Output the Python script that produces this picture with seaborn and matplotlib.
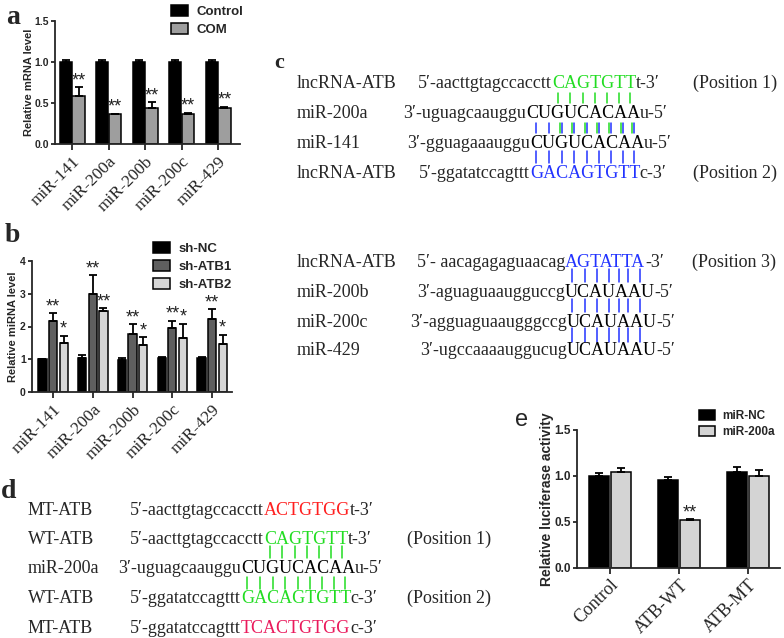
import matplotlib
matplotlib.use("Agg")
import numpy as np
import pandas as pd
import seaborn as sns
import matplotlib.pyplot as plt
from matplotlib.lines import Line2D
from matplotlib.font_manager import FontProperties, findfont, get_font
from matplotlib import ft2font

# ---- data ----
mir_labels = ['miR-141', 'miR-200a', 'miR-200b', 'miR-200c', 'miR-429']

a_control = [1.00, 1.00, 1.00, 1.00, 1.00]
a_control_err = [0.02, 0.02, 0.02, 0.02, 0.02]
a_com = [0.59, 0.36, 0.44, 0.36, 0.44]
a_com_err = [0.10, 0.01, 0.07, 0.02, 0.01]
a_stars = [['', '', '', '', ''], ['**', '**', '**', '**', '**']]

b_nc = [1.00, 1.05, 0.99, 1.04, 1.03]
b_nc_err = [0.02, 0.07, 0.04, 0.04, 0.03]
b_atb1 = [2.16, 2.99, 1.76, 1.95, 2.23]
b_atb1_err = [0.24, 0.58, 0.31, 0.23, 0.29]
b_atb2 = [1.51, 2.47, 1.45, 1.66, 1.48]
b_atb2_err = [0.20, 0.09, 0.22, 0.42, 0.26]
b_stars = [['', '', '', '', ''], ['**', '**', '**', '**', '**'], ['*', '**', '*', '*', '*']]

e_groups = ['Control', 'ATB-WT', 'ATB-MT']
e_nc = [1.00, 0.96, 1.04]
e_nc_err = [0.03, 0.03, 0.06]
e_200a = [1.04, 0.52, 1.00]
e_200a_err = [0.05, 0.01, 0.06]
e_stars = [['', '', ''], ['', '**', '']]

W, H = 784, 638
sns.set_style("ticks")
plt.rcParams['font.family'] = ['Liberation Sans', 'DejaVu Sans']
plt.rcParams['axes.linewidth'] = 1.3
SERIF = ['Liberation Serif', 'DejaVu Serif']

fig = plt.figure(figsize=(W / 100, H / 100), dpi=100)


def rect(l, t, r, b):
    return [l / W, 1 - b / H, (r - l) / W, (b - t) / H]


def put(x, y, s, **kw):
    return fig.text(x / W, 1 - y / H, s, **kw)


def bar_panel(box, cats, series, names, errs, stars, colors, ylim, yticks, ylabel,
              width, gap, xlim, tick_size, ytick_size, ylab_size, ylab_pad):
    ax = fig.add_axes(rect(*box))
    rows = []
    for name, vals in zip(names, series):
        for c, v in zip(cats, vals):
            rows.append({'cat': c, 'grp': name, 'val': v})
    df = pd.DataFrame(rows)
    sns.barplot(data=df, x='cat', y='val', hue='grp', palette=colors, ax=ax,
                edgecolor='black', linewidth=1.1, width=width, gap=gap,
                errorbar=None, saturation=1)
    for cont, err, st in zip(ax.containers, errs, stars):
        xs = [p.get_x() + p.get_width() / 2 for p in cont.patches]
        ys = [p.get_height() for p in cont.patches]
        ax.errorbar(xs, ys, yerr=[np.zeros(len(err)), err], fmt='none',
                    ecolor='black', elinewidth=1.3, capsize=3, capthick=1.3)
        for x, y, e, s in zip(xs, ys, err, st):
            if s:
                ax.text(x, y + e - ylim[1] * 0.015, s, ha='center', va='bottom',
                        fontsize=13, color='#222222')
    ax.set_ylim(*ylim)
    ax.set_xlim(*xlim)
    ax.set_yticks(yticks)
    ax.set_yticklabels([f'{t:.1f}' if ylim[1] < 2 else f'{t:g}' for t in yticks],
                       fontsize=ytick_size, fontweight='bold')
    ax.set_xticks(range(len(cats)))
    ax.set_xticklabels(cats, rotation=45, ha='right', rotation_mode='anchor',
                       fontsize=tick_size, family=SERIF)
    ax.tick_params(axis='x', length=4, width=1.3, pad=3)
    ax.tick_params(axis='y', length=3, width=1.3, pad=1.5)
    ax.set_xlabel('')
    ax.set_ylabel(ylabel, fontsize=ylab_size, fontweight='bold', labelpad=ylab_pad)
    sns.despine(ax=ax)
    ax.get_legend().remove()
    return ax


# ---- panel a ----
ax_a = bar_panel((55, 21, 240, 144), mir_labels, [a_control, a_com], ['Control', 'COM'],
                 [a_control_err, a_com_err], a_stars, ['black', '#9e9e9e'],
                 (0, 1.5), [0, 0.5, 1.0, 1.5], 'Relative mRNA level',
                 0.7, 0.05, (-0.47, 4.6), 12.5, 7.5, 8, 0.5)
ax_a.legend(loc='upper left', bbox_to_anchor=(166 / W, 1.0), bbox_transform=fig.transFigure,
            frameon=False, prop={'weight': 'bold', 'size': 9.5}, handlelength=1.3,
            handleheight=0.9, handletextpad=0.6, labelspacing=0.35, borderaxespad=0)

# ---- panel b ----
ax_b = bar_panel((32, 261, 232, 392), mir_labels, [b_nc, b_atb1, b_atb2],
                 ['sh-NC', 'sh-ATB1', 'sh-ATB2'], [b_nc_err, b_atb1_err, b_atb2_err], b_stars,
                 ['black', '#5f5f5f', '#d6d6d6'], (0, 4), [0, 1, 2, 3, 4],
                 'Relative miRNA level', 0.8, 0.22, (-0.53, 4.5), 12.5, 7.5, 8, 1.5)
ax_b.legend(loc='upper left', bbox_to_anchor=(148 / W, 1 - 237 / H), bbox_transform=fig.transFigure,
            frameon=False, prop={'weight': 'bold', 'size': 9.5}, handlelength=1.3,
            handleheight=0.9, handletextpad=0.6, labelspacing=0.35, borderaxespad=0)

# ---- panel e ----
ax_e = bar_panel((577, 430, 780, 568), e_groups, [e_nc, e_200a], ['miR-NC', 'miR-200a'],
                 [e_nc_err, e_200a_err], e_stars, ['black', '#d4d4d4'],
                 (0, 1.5), [0, 0.5, 1.0, 1.5], 'Relative luciferase activity',
                 0.64, 0.1, (-0.48, 2.46), 13, 8.5, 10, 0.5)
ax_e.tick_params(axis='x', pad=2)
ax_e.legend(loc='upper left', bbox_to_anchor=(694 / W, 1 - 405 / H), bbox_transform=fig.transFigure,
            frameon=False, prop={'weight': 'bold', 'size': 8.5}, handlelength=1.4,
            handleheight=0.9, handletextpad=0.6, labelspacing=0.4, borderaxespad=0)

# ---- panel letters ----
put(13, 17, 'a', family=SERIF, fontsize=20, fontweight='bold', ha='center', va='center')
put(12, 235, 'b', family=SERIF, fontsize=20, fontweight='bold', ha='center', va='center')
put(279, 63, 'c', family=SERIF, fontsize=16, fontweight='bold', ha='center', va='center')
put(9, 492, 'd', family=SERIF, fontsize=20, fontweight='bold', ha='center', va='center')
put(522, 420, 'e', fontsize=17, ha='center', va='center')

# ---- sequence panels c and d ----
GREEN = '#22dd22'
BLUE = '#2233ff'
RED = '#ff1f1f'
PINK = '#ea1a5c'
FS = 13
ft = get_font(findfont(FontProperties(family=SERIF)))
ft.set_size(FS, 100)
try:
    KERN = ft2font.Kerning.DEFAULT
except AttributeError:
    KERN = ft2font.KERNING_DEFAULT


def adv(s, prev=None):
    # pen advance of a string in pixels, kerning included (same as matplotlib's layout)
    total = 0.0
    for ch in s:
        gi = ft.get_char_index(ord(ch))
        if prev is not None:
            total += ft.get_kerning(prev, gi, KERN) / 64
        total += ft.load_char(ord(ch)).linearHoriAdvance / 65536
        prev = gi
    return total


def seq_row(x, y, pre, core, post, core_color):
    base = y + 5
    put(x, base, pre, family=SERIF, fontsize=FS, va='baseline', ha='left')
    cur = x + adv(pre)
    put(cur, base, core, family=SERIF, fontsize=FS, va='baseline', ha='left', color=core_color)
    centers = []
    for i, ch in enumerate(core):
        left = cur + adv(core[:i])
        centers.append(left + adv(ch) / 2)
    put(cur + adv(core), base, post, family=SERIF, fontsize=FS, va='baseline', ha='left')
    return centers


def name(x, y, s):
    put(x, y + 5, s, family=SERIF, fontsize=FS, va='baseline', ha='left')


def ticks_between(centers, y0, y1, color, dx=0):
    for cx in centers:
        fig.add_artist(Line2D([(cx + dx) / W] * 2, [1 - y0 / H, 1 - y1 / H],
                              transform=fig.transFigure, color=color, lw=1.1))


# panel c, positions 1 and 2
name(297, 83, 'lncRNA-ATB')
c1 = seq_row(418, 83, '5\u2032-aacttgtagccacctt', 'CAGTGTT', 't-3\u2032', GREEN)
put(693, 88, '(Position 1)', family=SERIF, fontsize=FS, va='baseline')
name(297, 113, 'miR-200a')
seq_row(403, 113, '3\u2032-uguagcaauggu', 'CUGUCACAA', 'u-5\u2032', 'black')
name(297, 143, 'miR-141')
seq_row(407, 143, '3\u2032-gguagaaauggu', 'CUGUCACAA', 'u-5\u2032', 'black')
name(297, 173, 'lncRNA-ATB')
c4 = seq_row(419, 173, '5\u2032-ggatatccagttt', 'GACAGTGTT', 'c-3\u2032', BLUE)
put(693, 178, '(Position 2)', family=SERIF, fontsize=FS, va='baseline')
ticks_between(c1, 93, 103, GREEN)
ticks_between(c1, 123, 133, GREEN, dx=2)
ticks_between(c4, 123, 133, BLUE)
ticks_between(c4, 151, 163, BLUE)

# panel c, position 3
name(297, 262, 'lncRNA-ATB')
c5 = seq_row(417, 262, '5\u2032- aacagagaguaacag', 'AGTATTA', '-3\u2032', BLUE)
put(692, 267, '(Position 3)', family=SERIF, fontsize=FS, va='baseline')
name(297, 292, 'miR-200b')
seq_row(417, 292, '3\u2032-aguaguaaugguccg', 'UCAUAAU', '-5\u2032', 'black')
name(297, 322, 'miR-200c')
seq_row(410, 322, '3\u2032-agguaguaaugggccg', 'UCAUAAU', '-5\u2032', 'black')
name(297, 350, 'miR-429')
seq_row(420, 350, '3\u2032-ugccaaaauggucug', 'UCAUAAU', '-5\u2032', 'black')
ticks_between(c5, 269, 282, BLUE)
ticks_between(c5, 299, 312, BLUE)
ticks_between(c5, 328, 342, BLUE)

# panel d
name(28, 510, 'MT-ATB')
seq_row(130, 510, '5\u2032-aacttgtagccacctt', 'ACTGTGG', 't-3\u2032', RED)
name(28, 539, 'WT-ATB')
d2 = seq_row(130, 539, '5\u2032-aacttgtagccacctt', 'CAGTGTT', 't-3\u2032', GREEN)
put(407, 544, '(Position 1)', family=SERIF, fontsize=FS, va='baseline')
name(28, 568, 'miR-200a')
seq_row(118, 568, '3\u2032-uguagcaauggu', 'CUGUCACAA', 'u-5\u2032', 'black')
name(28, 598, 'WT-ATB')
d4 = seq_row(130, 598, '5\u2032-ggatatccagttt', 'GACAGTGTT', 'c-3\u2032', GREEN)
put(407, 603, '(Position 2)', family=SERIF, fontsize=FS, va='baseline')
name(28, 628, 'MT-ATB')
seq_row(130, 628, '5\u2032-ggatatccagttt', 'TCACTGTGG', 'c-3\u2032', PINK)
ticks_between(d2, 546, 558, GREEN)
ticks_between(d4, 577, 589, GREEN)

plt.savefig('out.png', dpi=100)
plt.close()
